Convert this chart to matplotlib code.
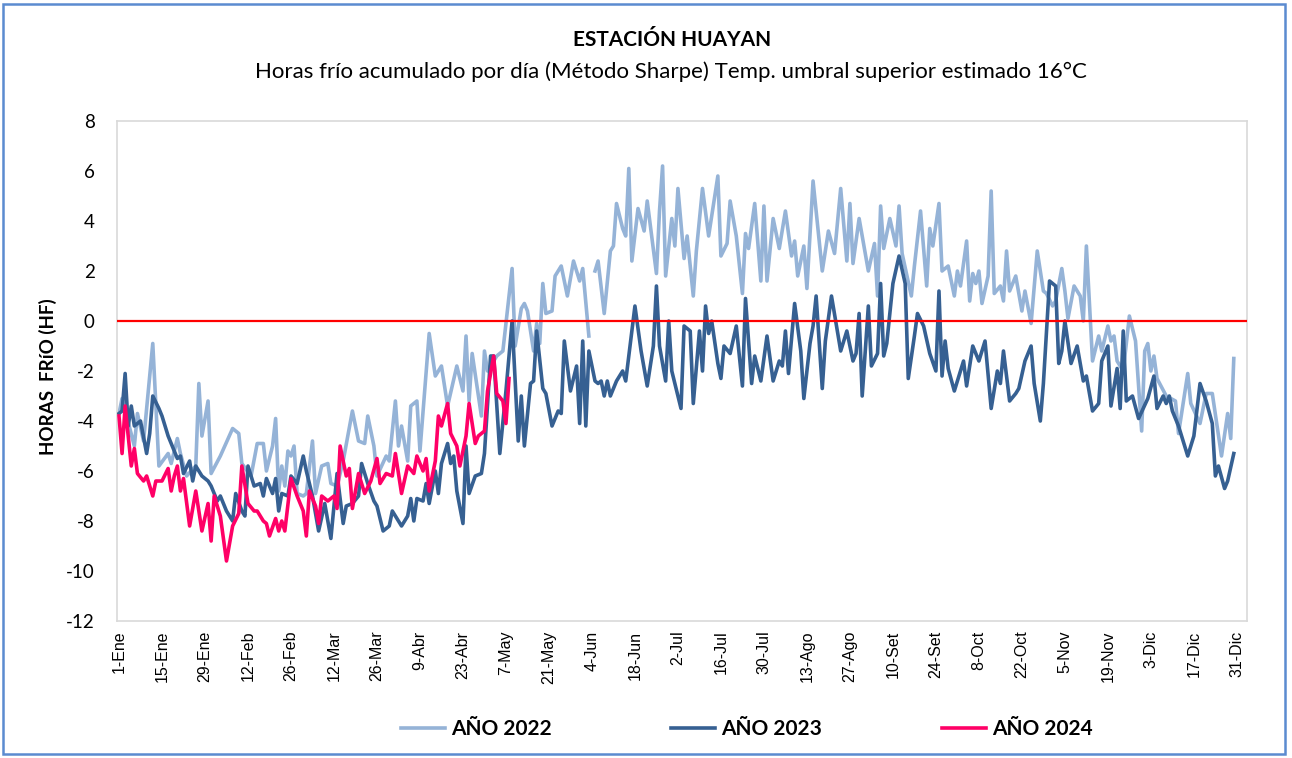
import numpy as np
import matplotlib.pyplot as plt
from matplotlib.patches import Rectangle

# Horas frío acumuladas por día - Estación Huayan (día del año, valor HF)
dias_2022 = [1, 2, 6, 7, 9, 12, 14, 17, 18, 20, 21, 23, 26, 27, 28, 30, 31, 34, 38, 39,
             40, 41, 44, 46, 48, 49, 51, 52, 53, 54, 55, 56, 57, 58, 59, 61, 62, 64, 65, 67,
             69, 70, 72, 74, 77, 79, 81, 82, 84, 85, 88, 89, 91, 92, 93, 95, 96, 98, 99, 102,
             104, 106, 108, 111, 113, 114, 115, 116, 119, 120, 121, 124, 126, 129, 130, 132, 133, 134, 136, 137,
             138, 139, 140, 142, 143, 145, 147, 149, 151, 152, 154, 155, 156, 157, 159, 161, 162, 163, 165, 166,
             167, 168, 170, 172, 173, 176, 177, 178, 179, 181, 182, 183, 185, 186, 188, 189, 191, 193, 194, 196,
             197, 199, 200, 202, 204, 205, 206, 208, 210, 211, 212, 214, 216, 218, 220, 221, 222, 224, 225, 227,
             230, 232, 234, 236, 238, 239, 240, 242, 245, 247, 248, 249, 250, 252, 254, 255, 256, 259, 260, 262,
             264, 265, 266, 268, 269, 271, 273, 274, 275, 277, 278, 279, 280, 281, 282, 284, 285, 286, 288, 289,
             290, 291, 293, 295, 296, 298, 300, 302, 303, 305, 306, 308, 309, 310, 312, 314, 315, 316, 317, 318,
             320, 321, 323, 324, 325, 326, 328, 330, 332, 334, 335, 336, 337, 338, 339, 342, 345, 346, 349, 350,
             353, 355, 357, 360, 362, 363, 364]
hf_2022 = [-3.7, -3.1, -5.0, -3.7, -4.8, -0.9, -5.8, -5.3, -5.7, -4.7, -5.3, -6.2, -5.8, -2.5, -4.6, -3.2, -6.1, -5.4, -4.3, -4.4,
           -4.5, -5.7, -6.2, -4.9, -4.9, -6.0, -5.0, -3.9, -6.8, -5.8, -6.6, -5.2, -5.4, -5.0, -6.9, -7.0, -6.9, -4.8, -6.9, -5.8,
           -5.7, -6.5, -6.6, -5.6, -3.6, -4.8, -4.9, -3.8, -5.0, -6.2, -5.4, -5.6, -3.2, -5.0, -4.2, -5.6, -3.4, -3.2, -5.2, -0.5,
           -2.2, -1.8, -3.4, -1.8, -2.8, -0.6, -3.2, -1.3, -3.8, -1.2, -2.0, -1.4, -1.2, 2.1, -1.0, 0.5, 0.7, 0.4, -1.2, -0.1,
           -0.9, 1.5, 0.3, 0.4, 1.8, 2.2, 1.0, 2.4, 1.6, 2.1, -0.6, np.nan, 2.0, 2.4, 0.3, 2.8, 3.0, 4.7, 3.7, 3.4,
           6.1, 2.4, 4.5, 3.6, 4.8, 1.9, 4.4, 6.2, 1.8, 4.1, 3.0, 5.3, 2.5, 3.4, 1.0, 2.8, 5.3, 3.4, 4.2, 5.8,
           2.6, 3.1, 4.8, 3.4, 1.1, 3.5, 2.9, 4.7, 1.6, 4.6, 1.6, 4.1, 2.9, 4.4, 2.6, 3.2, 1.8, 3.0, 1.3, 5.6,
           2.0, 3.6, 2.7, 5.3, 2.4, 4.7, 2.3, 4.1, 2.0, 3.1, 1.0, 4.6, 2.9, 4.1, 3.0, 4.6, 2.7, 1.0, 2.2, 4.4,
           1.4, 3.7, 3.0, 4.7, 2.0, 2.2, 1.0, 2.0, 1.4, 3.2, 0.8, 1.9, 1.5, 2.0, 0.7, 1.8, 5.2, 1.1, 1.4, 0.8,
           2.8, 1.2, 1.8, 0.4, 1.2, -0.1, 2.8, 1.2, 1.1, 0.6, 0.8, 2.1, 1.2, 0.1, 1.4, 1.0, 0.0, 3.0, 0.7, -1.6,
           -0.6, -1.2, -0.2, -0.8, -0.6, -1.6, -2.0, 0.2, -0.8, -4.4, -1.2, -0.9, -2.0, -1.4, -2.3, -3.0, -3.2, -4.5, -2.1, -3.3,
           -4.1, -2.9, -2.9, -5.4, -3.7, -4.7, -1.5]

dias_2023 = [1, 2, 3, 4, 5, 6, 8, 10, 11, 12, 14, 15, 17, 18, 20, 21, 22, 24, 25, 26,
             28, 30, 31, 33, 34, 36, 38, 39, 41, 42, 43, 45, 47, 48, 49, 51, 52, 53, 54, 56,
             57, 59, 61, 62, 64, 66, 68, 70, 72, 74, 75, 77, 79, 80, 82, 84, 85, 87, 89, 90,
             92, 93, 95, 96, 97, 98, 100, 101, 102, 104, 105, 106, 108, 109, 110, 111, 113, 114, 115, 117,
             119, 120, 122, 123, 125, 127, 128, 129, 131, 132, 133, 135, 136, 137, 139, 140, 142, 144, 145, 146,
             148, 150, 151, 152, 153, 154, 156, 157, 158, 159, 160, 161, 163, 165, 166, 167, 169, 171, 173, 175,
             176, 177, 179, 180, 181, 184, 185, 187, 188, 190, 191, 192, 193, 194, 196, 197, 198, 200, 202, 204,
             205, 207, 208, 210, 212, 214, 216, 217, 218, 219, 221, 223, 224, 226, 227, 228, 230, 231, 233, 236,
             238, 240, 241, 242, 243, 245, 246, 248, 249, 250, 251, 253, 255, 257, 258, 260, 261, 263, 265, 267,
             268, 269, 270, 271, 273, 276, 277, 279, 281, 283, 285, 287, 288, 289, 291, 293, 294, 296, 298, 299,
             301, 302, 304, 306, 307, 308, 309, 311, 313, 315, 316, 318, 320, 321, 323, 324, 326, 327, 328, 329,
             331, 333, 336, 338, 339, 341, 342, 343, 344, 346, 349, 351, 353, 355, 357, 358, 359, 361, 362, 364]
hf_2023 = [-3.7, -3.6, -2.1, -4.2, -3.4, -4.2, -4.0, -5.3, -4.5, -3.0, -3.5, -3.8, -4.6, -4.9, -5.5, -5.4, -6.1, -5.6, -6.4, -5.8,
           -6.2, -6.4, -6.6, -7.2, -7.0, -7.6, -8.0, -6.9, -7.6, -7.8, -5.8, -6.6, -6.5, -7.0, -6.3, -6.9, -6.3, -7.6, -6.9, -7.0,
           -6.2, -6.5, -5.4, -6.0, -7.0, -8.4, -7.3, -8.7, -6.1, -8.1, -7.4, -7.3, -7.0, -5.7, -6.5, -7.2, -7.4, -8.4, -8.2, -7.6,
           -8.0, -8.2, -7.8, -7.1, -8.0, -7.1, -7.2, -6.5, -7.3, -6.0, -6.9, -5.7, -4.9, -5.7, -5.4, -6.8, -8.1, -5.0, -6.9, -6.2,
           -6.1, -5.3, -1.4, -1.4, -5.3, -2.8, -1.4, 0.0, -4.8, -3.0, -5.0, -2.5, -2.4, -0.4, -2.7, -2.9, -4.2, -3.6, -3.7, -0.8,
           -2.8, -1.8, -4.1, -0.8, -4.2, -1.2, -2.4, -2.5, -2.4, -3.0, -2.4, -3.0, -2.4, -2.0, -2.4, -1.4, 0.6, -1.2, -2.6, -1.0,
           1.4, -1.0, -2.4, 0.0, -2.0, -3.5, -0.2, -0.4, -3.3, -0.4, -2.0, 0.6, -0.5, 0.0, -1.7, -2.3, -1.0, -1.3, -0.2, -2.6,
           0.9, -2.5, -1.4, -2.4, -0.6, -2.4, -1.6, -1.8, -0.4, -2.1, 0.7, -1.2, -3.1, -0.9, -0.2, 1.0, -2.7, -0.8, 1.0, -1.2,
           -0.4, -1.6, -1.3, 0.3, -3.0, 0.6, -1.8, -1.3, 1.5, -1.4, -0.9, 1.5, 2.6, 1.5, -2.3, -0.6, 0.3, -0.2, -1.3, -2.0,
           1.2, -2.2, -0.8, -1.9, -2.8, -1.6, -2.6, -1.0, -1.6, -0.8, -3.5, -2.0, -2.5, -1.2, -3.2, -2.9, -2.7, -1.6, -1.0, -2.5,
           -4.0, -2.5, 1.6, 1.4, -1.7, -1.2, 0.0, -1.7, -1.0, -2.4, -2.2, -3.6, -3.3, -1.6, -1.0, -3.4, -1.9, -3.5, -0.4, -3.2,
           -3.0, -3.9, -3.1, -2.2, -3.5, -3.0, -3.3, -3.0, -3.6, -4.2, -5.4, -4.6, -2.5, -3.2, -4.1, -6.2, -5.8, -6.7, -6.4, -5.3]

dias_2024 = [1, 2, 3, 5, 6, 7, 9, 10, 12, 13, 15, 17, 18, 19, 20, 21, 22, 24, 26, 28,
             30, 31, 32, 34, 36, 38, 40, 41, 43, 45, 46, 48, 49, 50, 52, 53, 54, 55, 57, 59,
             61, 62, 63, 65, 66, 67, 69, 71, 72, 73, 75, 76, 77, 79, 81, 83, 85, 86, 88, 90,
             91, 93, 95, 97, 98, 100, 101, 102, 104, 105, 106, 108, 109, 111, 112, 114, 115, 117, 118, 120,
             121, 123, 124, 126, 127, 128]
hf_2024 = [-3.8, -5.3, -3.4, -5.8, -5.1, -6.1, -6.4, -6.2, -7.0, -6.4, -6.4, -5.9, -6.8, -6.2, -5.8, -6.8, -6.3, -8.2, -6.8, -8.4,
           -7.3, -8.8, -7.0, -7.8, -9.6, -8.2, -7.7, -5.8, -7.3, -7.6, -7.6, -8.0, -8.1, -8.6, -7.9, -8.4, -8.0, -8.4, -6.3, -7.0,
           -7.6, -8.6, -6.8, -7.4, -8.1, -7.0, -7.2, -7.0, -7.5, -5.0, -6.2, -5.9, -7.5, -6.1, -6.9, -6.4, -5.5, -6.5, -6.1, -6.2,
           -5.3, -6.9, -5.8, -6.1, -5.4, -6.0, -5.5, -6.8, -5.6, -3.8, -4.2, -3.3, -4.5, -5.0, -5.8, -4.6, -3.3, -4.9, -4.6, -4.4,
           -2.8, -1.4, -2.9, -3.2, -4.1, -2.3]

tick_dias = list(range(1, 366, 14))
tick_labels = ['1-Ene', '15-Ene', '29-Ene', '12-Feb', '26-Feb', '12-Mar', '26-Mar', '9-Abr', '23-Abr',
               '7-May', '21-May', '4-Jun', '18-Jun', '2-Jul', '16-Jul', '30-Jul', '13-Ago', '27-Ago',
               '10-Set', '24-Set', '8-Oct', '22-Oct', '5-Nov', '19-Nov', '3-Dic', '17-Dic', '31-Dic']

plt.rcParams['font.family'] = ['Lato', 'DejaVu Sans']
plt.rcParams['axes.unicode_minus'] = False

fig = plt.figure(figsize=(12.92, 7.58), dpi=100)
ax = fig.add_axes([117 / 1292, 1 - 621 / 758, 1130 / 1292, 500 / 758])

l22, = ax.plot(dias_2022, hf_2022, color='#95B3D7', lw=2.6, label='AÑO 2022', zorder=2)
l23, = ax.plot(dias_2023, hf_2023, color='#366092', lw=2.6, label='AÑO 2023', zorder=3)
l24, = ax.plot(dias_2024, hf_2024, color='#FF0066', lw=2.6, label='AÑO 2024', zorder=4)
ax.axhline(0, color='#FF0000', lw=1.6, zorder=5)

ax.set_xlim(0.35, 368.3)
ax.set_ylim(-12, 8)
ax.set_yticks(range(-12, 9, 2))
ax.set_xticks(tick_dias)
ax.set_xticklabels(tick_labels, rotation=90, family='Liberation Sans', fontsize=11.5)
ax.tick_params(axis='x', length=0, pad=7)
ax.tick_params(axis='y', length=0, pad=16, labelsize=13.5)
for s in ax.spines.values():
    s.set_color('#D9D9D9')
    s.set_linewidth(1.2)

fig.text(0.037, 0.503, 'HORAS  FRíO (HF)', rotation=90, ha='center', va='center',
         fontsize=13.5, fontweight='bold')
fig.text(0.520, 1 - 40 / 758, 'ESTACIÓN HUAYAN', ha='center', va='center',
         fontsize=15, fontweight='bold')
fig.text(0.519, 1 - 72 / 758, 'Horas frío acumulado por día (Método Sharpe) Temp. umbral superior estimado 16°C',
         ha='center', va='center', fontsize=16)

fig.legend(handles=[l22, l23, l24], loc='center', bbox_to_anchor=(0.578, 0.038), ncol=3,
           frameon=False, columnspacing=5.75, handlelength=2.1, handletextpad=0.3,
           prop={'weight': 'bold', 'size': 15})

fig.patches.append(Rectangle((3 / 1292, 4 / 758), 1282 / 1292, 750 / 758, transform=fig.transFigure,
                             fill=False, edgecolor='#5B8BD0', lw=1.8))

fig.savefig('out.png', dpi=100)
